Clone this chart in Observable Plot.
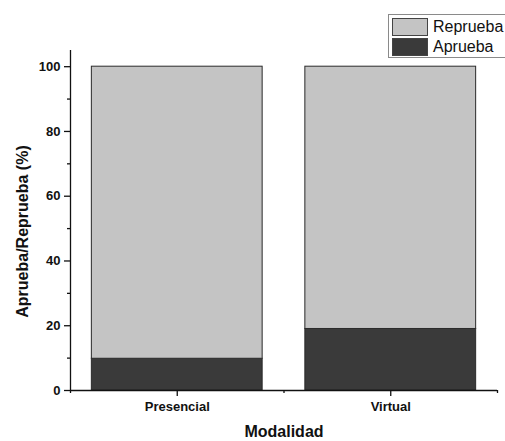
<!DOCTYPE html>
<html>
<head>
<meta charset="utf-8">
<script src="https://cdn.jsdelivr.net/npm/d3@7"></script>
<script src="https://cdn.jsdelivr.net/npm/@observablehq/plot@0.6"></script>
<style>
  html, body { margin: 0; padding: 0; background: #fff; overflow: hidden; }
  #wrap { position: relative; width: 505px; height: 441px; }
  #legend { position: absolute; left: 388px; top: 14px; width: 130px; border: 1px solid #8a8a8a; background: #fff;
            font-family: "Liberation Sans", Arial, sans-serif; font-size: 16px; color: #111; padding: 2px 0 0 3px; box-sizing: border-box; height: 44px; }
  .row { display: flex; align-items: center; height: 20px; }
  .sw { width: 36px; height: 18px; border: 1px solid #444; box-sizing: border-box; margin-right: 5px; }
</style>
</head>
<body>
<div id="wrap"></div>
<script>
const categories = ["Presencial", "Virtual"];
const series = ["Aprueba", "Reprueba"];
const aprueba = [9.8, 19];
const reprueba = [90.2, 81];
const yTicks = [0, 20, 40, 60, 80, 100];
const yMinorTicks = [10, 30, 50, 70, 90];
const colors = ["#3a3a3a", "#c4c4c4"];

const font = "'Liberation Sans', Arial, sans-serif";
const rows = [];
categories.forEach((c, i) => {
  rows.push({cat: c, pos: i + 1, serie: series[0], y1: 0, y2: aprueba[i]});
  rows.push({cat: c, pos: i + 1, serie: series[1], y1: aprueba[i], y2: aprueba[i] + reprueba[i]});
});
const xMajor = categories.map((c, i) => i + 1);
const xMinor = [0.5, 1.5, 2.5];

const chart = Plot.plot({
  width: 505,
  height: 441,
  marginLeft: 70,
  marginRight: 8,
  marginTop: 50,
  marginBottom: 51,
  style: {fontFamily: font, background: "#fff", color: "#111"},
  x: {type: "linear", domain: [0.5, 2.5], axis: null},
  y: {domain: [0, 105], axis: null},
  color: {domain: series, range: colors},
  marks: [
    Plot.rect(rows, {x1: d => d.pos - 0.4, x2: d => d.pos + 0.4, y1: "y1", y2: "y2", fill: "serie", stroke: "#2a2a2a", strokeWidth: 1}),
    Plot.ruleX([0.5], {stroke: "#111", strokeWidth: 1.3}),
    Plot.ruleY([0], {stroke: "#111", strokeWidth: 1.3}),
    Plot.axisY({ticks: yTicks, tickSize: 6, tickPadding: 4, tickFormat: d => d, fontSize: 13, fontWeight: "bold", label: null, strokeWidth: 1.3}),
    Plot.axisY({ticks: yMinorTicks, tickSize: 3, tickFormat: () => "", label: null, strokeWidth: 1.3}),
    Plot.axisX({ticks: xMajor, tickSize: 6, tickPadding: 5, tickFormat: d => categories[d - 1], fontSize: 13, fontWeight: "bold", label: null, strokeWidth: 1.3}),
    Plot.axisX({ticks: xMinor, tickSize: 3, tickFormat: () => "", label: null, strokeWidth: 1.3}),
    Plot.text(["Modalidad"], {frameAnchor: "bottom", dy: 46, fontSize: 16, fontWeight: "bold", fill: "#111"}),
    Plot.text(["Aprueba/Reprueba (%)"], {frameAnchor: "left", textAnchor: "middle", dx: -48, dy: 11, rotate: -90, fontSize: 16, fontWeight: "bold", fill: "#111"})
  ]
});
const wrap = document.getElementById("wrap");
wrap.appendChild(chart);

const legend = document.createElement("div");
legend.id = "legend";
[1, 0].forEach(k => {
  const r = document.createElement("div");
  r.className = "row";
  const sw = document.createElement("div");
  sw.className = "sw";
  sw.style.background = colors[k];
  const t = document.createElement("span");
  t.textContent = series[k];
  r.appendChild(sw); r.appendChild(t);
  legend.appendChild(r);
});
wrap.appendChild(legend);
</script>
</body>
</html>
